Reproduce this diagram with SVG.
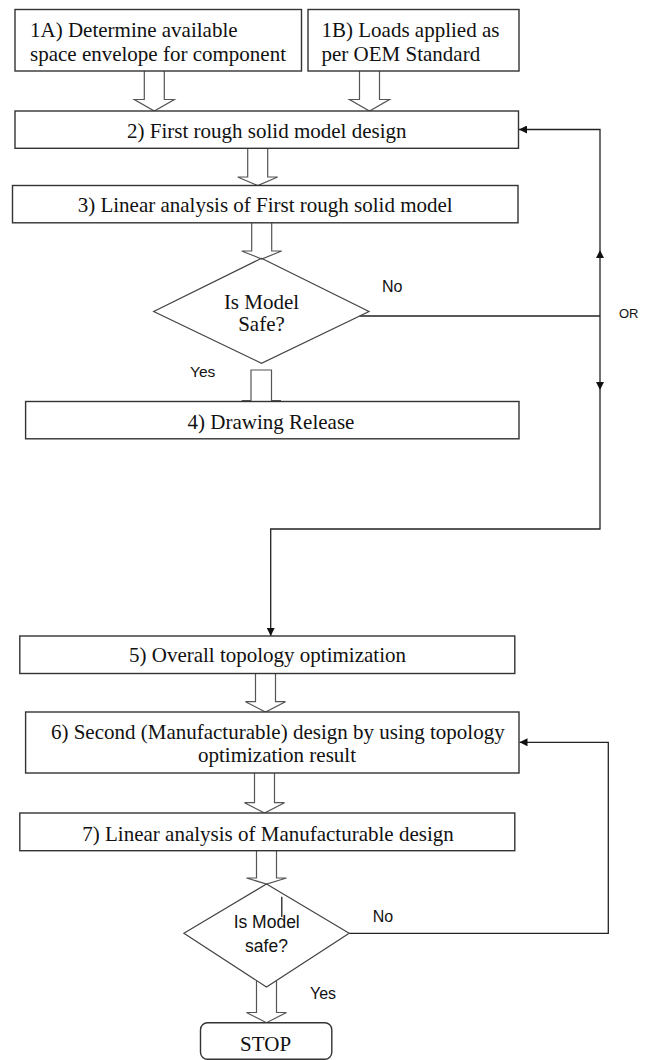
<svg xmlns="http://www.w3.org/2000/svg" width="647" height="1060" viewBox="0 0 647 1060">
<style>
.box{fill:#fff;stroke:#333;stroke-width:1.4}
.dia{fill:none;stroke:#444;stroke-width:1.2}
.ha{fill:#fff;stroke:#555;stroke-width:1.2}
.ln{fill:none;stroke:#222;stroke-width:1.3}
.t{font-family:"Liberation Serif","Times New Roman",serif;font-size:21px;fill:#111}
.s{font-family:"Liberation Sans",Arial,sans-serif;fill:#111}
</style>
<defs>
<marker id="ah" viewBox="0 0 10 10" refX="10" refY="5" markerWidth="9" markerHeight="8" markerUnits="userSpaceOnUse" orient="auto">
<path d="M0,0 L10,5 L0,10 z" fill="#111"/>
</marker>
</defs>
<rect width="647" height="1060" fill="#fff"/>

<g id="connectors">
<path class="ln" d="M359.6,316 H600"/>
<path class="ln" d="M600,316 V250" marker-end="url(#ah)"/>
<path class="ln" d="M600,250 V129.5 H519" marker-end="url(#ah)"/>
<path class="ln" d="M600,316 V390" marker-end="url(#ah)"/>
<path class="ln" d="M600,390 V529 H270.7 V636" marker-end="url(#ah)"/>
<path class="ln" d="M349.2,933.3 H608.3 V742.3 H519.5" marker-end="url(#ah)"/>
<path class="ha" d="M144.3,71 V99.5 H134.3 L154.3,111 L174.3,99.5 H164.3 V71"/>
<path class="ha" d="M359.5,71 V99.5 H349.5 L369.5,111 L389.5,99.5 H379.5 V71"/>
<path class="ha" d="M247.7,148.3 V177 H237.7 L257.7,185.5 L277.7,177 H267.7 V148.3"/>
<path class="ha" d="M251.7,222.8 V251 H241.7 L261.7,259 L281.7,251 H271.7 V222.8"/>
<path class="ha" d="M241.7,400.5 H251 V370 H271.5 V400.5 H281"/>
<path class="ha" d="M255.5,673.5 V701.7 H245.5 L265.5,712 L285.5,701.7 H275.5 V673.5"/>
<path class="ha" d="M254.5,773 V802.7 H244.5 L264.5,813 L284.5,802.7 H274.5 V773"/>
<path class="ha" d="M256.5,850.7 V878 H246.5 L266.5,884 L286.5,878 H276.5 V850.7"/>
<path class="ha" d="M256.5,980.5 V1012.5 H246.5 L266.5,1022.7 L286.5,1012.5 H276.5 V980.5"/>
<path class="ln" d="M281.8,896.7 V917"/>
</g>

<g id="n1a">
<rect class="box" x="15" y="9.5" width="286.5" height="61.5"/>
<text class="t" x="30" y="37">1A) Determine available</text>
<text class="t" x="30" y="61">space envelope for component</text>
</g>
<g id="n1b">
<rect class="box" x="308" y="9.5" width="211" height="61.5"/>
<text class="t" x="321.5" y="37">1B) Loads applied as</text>
<text class="t" x="321.5" y="61">per OEM Standard</text>
</g>
<g id="n2">
<rect class="box" x="15" y="111" width="503.5" height="37.3"/>
<text class="t" x="266.8" y="138" text-anchor="middle">2) First rough solid model design</text>
</g>
<g id="n3">
<rect class="box" x="12.5" y="185.5" width="505.5" height="37.3"/>
<text class="t" x="265.2" y="212" text-anchor="middle">3) Linear analysis of First rough solid model</text>
</g>
<g id="d1">
<polygon class="dia" points="261.5,258.3 369,311.5 261.5,363.3 153.7,311.5"/>
<text class="t" x="261.5" y="309" text-anchor="middle">Is Model</text>
<text class="t" x="261.5" y="331" text-anchor="middle">Safe?</text>
</g>
<g id="labels1">
<text class="s" x="382" y="291.5" font-size="16">No</text>
<text class="s" x="619" y="318" font-size="13">OR</text>
<text class="s" x="190" y="377" font-size="15.5">Yes</text>
</g>
<g id="n4">
<rect class="box" x="25.6" y="401.5" width="493.4" height="37.3"/>
<text class="t" x="271" y="428.5" text-anchor="middle">4) Drawing Release</text>
</g>
<g id="n5">
<rect class="box" x="19.8" y="636" width="495" height="37.5"/>
<text class="t" x="267.5" y="661.7" text-anchor="middle">5) Overall topology optimization</text>
</g>
<g id="n6">
<rect class="box" x="25.6" y="712" width="493.4" height="61"/>
<text class="t" x="277.8" y="739" text-anchor="middle">6) Second (Manufacturable) design by using topology</text>
<text class="t" x="277" y="762" text-anchor="middle">optimization result</text>
</g>
<g id="n7">
<rect class="box" x="19.8" y="813" width="495" height="37.7"/>
<text class="t" x="268" y="841" text-anchor="middle">7) Linear analysis of Manufacturable design</text>
</g>
<g id="d2">
<polygon class="dia" points="266.5,884 349.2,933.3 266.5,987 183.9,933.3"/>
<text class="s" x="266.7" y="928" font-size="17.5" text-anchor="middle">Is Model</text>
<text class="s" x="266.5" y="952" font-size="17.5" text-anchor="middle">safe?</text>
</g>
<g id="labels2">
<text class="s" x="372.7" y="922" font-size="16">No</text>
<text class="s" x="310" y="999" font-size="16">Yes</text>
</g>
<g id="stop">
<rect class="box" x="200.5" y="1022.7" width="131.3" height="36.5" rx="7"/>
<text class="t" x="265.6" y="1051" text-anchor="middle">STOP</text>
</g>
</svg>
